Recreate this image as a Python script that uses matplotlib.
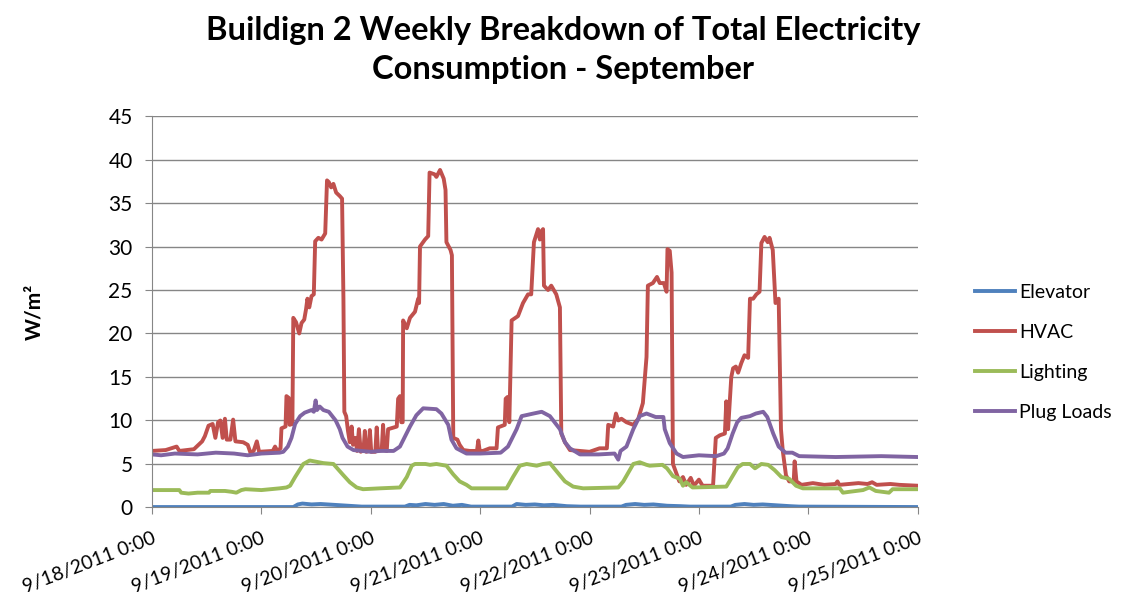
import pandas as pd
import matplotlib
matplotlib.use('Agg')
import matplotlib.pyplot as plt

'''Building 2 metered loads, one week of September 2011 (hours after 9/18 0:00, W/m2)'''

start = pd.Timestamp('2011-09-18 00:00')

elevator_h = [0, 31, 32, 33, 35, 37, 40, 43, 46, 55.5, 56.5, 58, 60, 62, 64, 66, 68, 70,
              79, 80, 82, 84, 86, 88, 91, 94, 103, 104, 106, 108, 110, 113, 116, 118,
              127, 128, 130, 132, 134, 137, 140, 142, 168]
elevator_w = [0.05, 0.05, 0.35, 0.45, 0.35, 0.4, 0.3, 0.2, 0.1, 0.1, 0.3, 0.25, 0.4, 0.3, 0.4, 0.2, 0.3, 0.1,
              0.1, 0.4, 0.3, 0.35, 0.25, 0.3, 0.15, 0.1, 0.1, 0.3, 0.4, 0.3, 0.35, 0.2, 0.15, 0.1,
              0.1, 0.3, 0.4, 0.3, 0.35, 0.25, 0.15, 0.1, 0.05]

hvac_h = [0, 3, 5.4, 6, 9.2, 10, 11, 11.6, 12.4, 13.3, 13.9, 14.5, 15.0, 15.5, 16.0, 16.4, 17.2, 17.8,
          18.3, 20, 21.0, 21.6, 22.3, 23.0, 23.5, 26.5, 27.0, 27.5, 28.2, 28.4, 29.3, 29.5, 30.0, 30.2,
          30.8, 31.0, 31.6, 32.3, 32.8, 33.4, 33.8, 34.1, 34.5, 35.0, 35.5, 35.8, 36.5, 37.2, 38.0,
          38.4, 38.8, 39.3, 39.8, 40.4, 41.2, 41.7, 42.0, 42.2, 42.6, 43.0, 43.4, 43.8, 44.1, 44.6,
          45.0, 45.4, 45.8, 46.4, 46.7, 47.0, 47.5, 47.8, 48.1, 49.0, 49.3, 49.6, 50.4, 50.7, 51.0,
          51.5, 51.8, 53.7, 54.0, 54.4, 54.7, 55.0, 55.1, 55.9, 56.6, 57.7, 58.4, 58.6, 58.8, 59.9,
          60.6, 60.9, 62.0, 62.4, 63.2, 64.0, 64.4, 64.6, 65.5, 65.8, 66.1, 67.0, 67.5, 68.3, 69.7,
          71.3, 71.6, 71.9, 72.6, 74.1, 75.6, 75.9, 77.4, 77.6, 78.0, 78.4, 78.9, 80.3, 81.4, 82.5,
          83.2, 83.8, 84.4, 84.7, 85.1, 85.5, 85.8, 86.0, 86.9, 87.6, 88.7, 89.5, 89.8, 90.6, 91.7,
          93.9, 96.0, 98.2, 99.8, 100.1, 101.2, 101.8, 102.3, 103.0, 104.1, 105.6, 106.7, 107.7,
          108.5, 108.8, 109.9, 110.8, 111.4, 112.3, 112.9, 113.1, 113.6, 114.0, 114.3, 115.0, 115.7,
          116.5, 117.2, 118.2, 118.9, 120.0, 120.8, 123.1, 123.7, 124.6, 125.7, 126.0, 126.4, 126.8,
          127.1, 127.5, 128.1, 128.6, 129.3, 130.0, 130.8, 131.2, 131.9, 132.6, 133.3, 133.7, 134.4,
          135.1, 135.5, 136.2, 136.8, 137.5, 138.0, 138.4, 139.1, 139.8, 140.8, 141.0, 141.4, 142.5,
          145, 147.5, 150.0, 150.4, 150.8, 155, 157, 158, 159, 162, 164, 168]
hvac_w = [6.5, 6.6, 7.0, 6.5, 6.7, 7.1, 7.6, 8.2, 9.4, 9.6, 8.0, 9.8, 10.0, 8.0, 10.2, 7.8, 7.8, 10.1,
          7.6, 7.5, 7.2, 6.3, 6.5, 7.6, 6.4, 6.5, 7.0, 6.5, 6.8, 9.1, 9.3, 12.8, 12.6, 9.5,
          9.6, 21.8, 21.3, 20.0, 21.2, 21.6, 22.8, 24.0, 23.0, 24.3, 24.5, 30.6, 31.0, 30.8, 31.5,
          37.6, 37.4, 36.8, 37.2, 36.2, 35.8, 35.5, 24.0, 11.0, 10.5, 8.8, 7.5, 9.3, 7.2, 8.0,
          6.5, 9.0, 6.4, 6.6, 8.8, 6.4, 6.5, 8.9, 6.4, 6.4, 9.2, 6.5, 6.6, 9.5, 6.6,
          6.5, 9.0, 9.3, 12.5, 12.8, 9.8, 9.8, 21.5, 20.6, 21.8, 22.5, 24.0, 23.5, 30.0, 30.8,
          31.2, 38.5, 38.3, 38.0, 38.8, 37.8, 36.5, 30.5, 29.6, 29.0, 8.0, 7.8, 7.2, 6.6, 6.5,
          6.5, 7.7, 6.5, 6.5, 6.8, 6.8, 9.2, 9.5, 12.5, 12.7, 9.8, 21.5, 22.0, 23.5, 24.5,
          24.5, 30.5, 31.5, 32.0, 30.8, 31.8, 32.0, 25.5, 25.0, 25.5, 24.5, 23.0, 8.5, 7.5, 6.6,
          6.5, 6.4, 6.8, 6.8, 9.5, 9.3, 10.8, 10.0, 10.2, 9.8, 9.5, 10.2, 12.0,
          17.3, 25.5, 25.8, 26.5, 25.8, 25.8, 24.8, 29.7, 29.5, 27.0, 5.0, 4.0, 3.0,
          3.5, 2.6, 3.4, 2.5, 3.2, 2.5, 2.5, 8.0, 8.3, 8.5, 12.2, 9.0, 12.5,
          15.0, 16.0, 16.2, 15.5, 16.6, 17.5, 17.2, 24.0, 24.0, 24.5, 24.8, 30.4, 31.1,
          30.5, 31.0, 29.6, 23.5, 24.0, 9.0, 6.5, 3.7, 3.0, 3.0, 5.3, 3.0, 2.6,
          2.8, 2.6, 2.7, 3.0, 2.6, 2.8, 2.7, 2.9, 2.6, 2.7, 2.6, 2.5]

lighting_h = [0, 6.0, 6.4, 8, 10, 12.5, 12.8, 16, 17.5, 18.5, 19.6, 20.5, 24, 28, 29.5, 30.3, 31.4,
              33.2, 34.6, 37.6, 39.8, 42.0, 43.4, 44.9, 46.3, 50, 54.4, 55.9, 57.0, 57.7, 60, 61,
              62.4, 64.6, 66.1, 67.5, 69.0, 70.1, 77.8, 79.2, 80.7, 82.2, 84.4, 85.8, 87.3, 88.7,
              90.6, 92.4, 94.6, 102.3, 103.4, 105.6, 107.0, 108.5, 109.2, 112.0, 113.0, 114.3, 115.8,
              116.5, 117.2, 118.6, 126.0, 126.7, 128.5, 129.6, 131.2, 132.3, 133.7, 135.2, 136.6,
              138.1, 139.8, 141.3, 142.8, 150.9, 151.6, 153, 156, 157.4, 158.8, 161.7, 162.5, 168]
lighting_w = [2.0, 2.0, 1.7, 1.6, 1.7, 1.7, 1.9, 1.9, 1.8, 1.7, 2.0, 2.1, 2.0, 2.2, 2.3, 2.5, 3.5,
              5.0, 5.4, 5.1, 5.0, 3.7, 2.9, 2.3, 2.1, 2.2, 2.3, 3.5, 4.8, 5.0, 5.0, 4.9,
              5.0, 4.8, 3.8, 3.0, 2.6, 2.2, 2.2, 3.5, 4.8, 5.0, 4.8, 5.0, 5.1, 4.2,
              3.0, 2.4, 2.2, 2.3, 3.0, 5.0, 5.2, 4.9, 4.8, 4.9, 4.5, 3.6, 3.3,
              2.5, 2.9, 2.3, 2.4, 3.0, 4.6, 5.0, 5.0, 4.5, 5.0, 4.9, 4.3,
              3.5, 3.3, 2.5, 2.2, 2.2, 1.7, 1.8, 2.0, 2.3, 1.9, 1.7, 2.1, 2.1]

plug_h = [0, 2, 5, 10, 14, 18, 21, 24, 28, 28.8, 29.8, 30.6, 31.4, 32.5, 33.5, 35.0, 35.5, 35.9,
          36.2, 36.8, 37.6, 38.8, 40.3, 41.2, 41.8, 42.9, 44.2, 46, 48, 50, 53, 54.4, 56.6, 58.0,
          59.5, 62.4, 63.5, 65.0, 65.7, 66.8, 69.0, 72, 76.5, 78.1, 80.0, 81.1, 83.7, 85.5, 87.3,
          89.5, 90.6, 91.7, 93.9, 98, 101.5, 102.3, 102.8, 104.1, 105.6, 107.0, 108.5, 110.5,
          112.2, 112.5, 113.6, 115.1, 116.5, 120, 123.8, 125.5, 126.3, 127.4, 128.4, 129.3, 131.2,
          132.5, 134.1, 135.0, 136.3, 137.5, 139.0, 140.5, 142.0, 150, 160, 168]
plug_w = [6.1, 6.0, 6.2, 6.1, 6.3, 6.2, 6.0, 6.2, 6.3, 6.4, 7.0, 8.0, 9.6, 10.5, 10.9, 11.2, 11.0, 12.3,
          11.2, 11.6, 11.2, 11.0, 10.0, 9.0, 8.0, 7.0, 6.6, 6.5, 6.4, 6.5, 6.5, 7.0, 9.3, 10.6,
          11.4, 11.3, 10.8, 9.5, 7.8, 6.8, 6.2, 6.2, 6.3, 7.0, 9.0, 10.5, 10.8, 11.0, 10.5,
          9.0, 7.5, 6.8, 6.1, 6.1, 6.2, 5.5, 6.5, 7.0, 9.0, 10.5, 10.8, 10.4,
          10.4, 9.0, 7.4, 6.2, 5.8, 6.0, 5.9, 6.2, 6.8, 8.5, 9.8, 10.3, 10.5,
          10.8, 11.0, 10.4, 8.5, 7.0, 6.3, 6.3, 5.9, 5.8, 5.9, 5.8]

series_names = ['Elevator', 'HVAC', 'Lighting', 'Plug Loads']
series_colors = ['#4F81BD', '#C0504D', '#9BBB59', '#8064A2']
tick_days = ['2011-09-18', '2011-09-19', '2011-09-20', '2011-09-21',
             '2011-09-22', '2011-09-23', '2011-09-24', '2011-09-25']


def to_time(hours):
    return start + pd.to_timedelta(hours, unit='h')


plt.rcParams['font.family'] = ['Lato', 'DejaVu Sans']

fig = plt.figure(figsize=(11.26, 5.99), dpi=100)
ax = fig.add_axes([0.135, 0.1528, 0.68, 0.6535])

series = [(elevator_h, elevator_w), (hvac_h, hvac_w), (lighting_h, lighting_w), (plug_h, plug_w)]
for (hrs, vals), name, col in zip(series, series_names, series_colors):
    ax.plot(to_time(hrs), vals, color=col, lw=2.8, label=name, solid_joinstyle='round')

ticks = pd.to_datetime(tick_days)
ax.set_xlim(ticks[0], ticks[-1])
ax.set_xticks(ticks)
ax.set_xticklabels([f'{d.month}/{d.day}/{d.year} 0:00' for d in ticks],
                   rotation=21, ha='right', rotation_mode='anchor', fontsize=14)
ax.set_ylim(0, 45)
ax.set_yticks(range(0, 46, 5))
ax.tick_params(axis='y', labelsize=15, length=5, color='#868686', pad=9)
ax.tick_params(axis='x', length=5, color='#868686', pad=11)

ax.grid(axis='y', color='#868686', lw=1.0)
ax.set_axisbelow(True)
for s in ['top', 'right']:
    ax.spines[s].set_visible(False)
for s in ['left', 'bottom']:
    ax.spines[s].set_color('#868686')

ax.set_ylabel('W/m²', fontsize=15, fontweight='bold')
ax.yaxis.set_label_coords(-0.141, 0.5)

fig.text(0.5, 0.974, 'Buildign 2 Weekly Breakdown of Total Electricity\nConsumption - September',
         ha='center', va='top', fontsize=23.5, fontweight='bold', linespacing=1.43)

ax.legend(loc='center left', bbox_to_anchor=(0.866, 0.4115), bbox_transform=fig.transFigure,
          frameon=False, fontsize=14, handlelength=2.05, handletextpad=0.2, labelspacing=1.19,
          borderpad=0, borderaxespad=0)

fig.savefig('out.png', dpi=100)
